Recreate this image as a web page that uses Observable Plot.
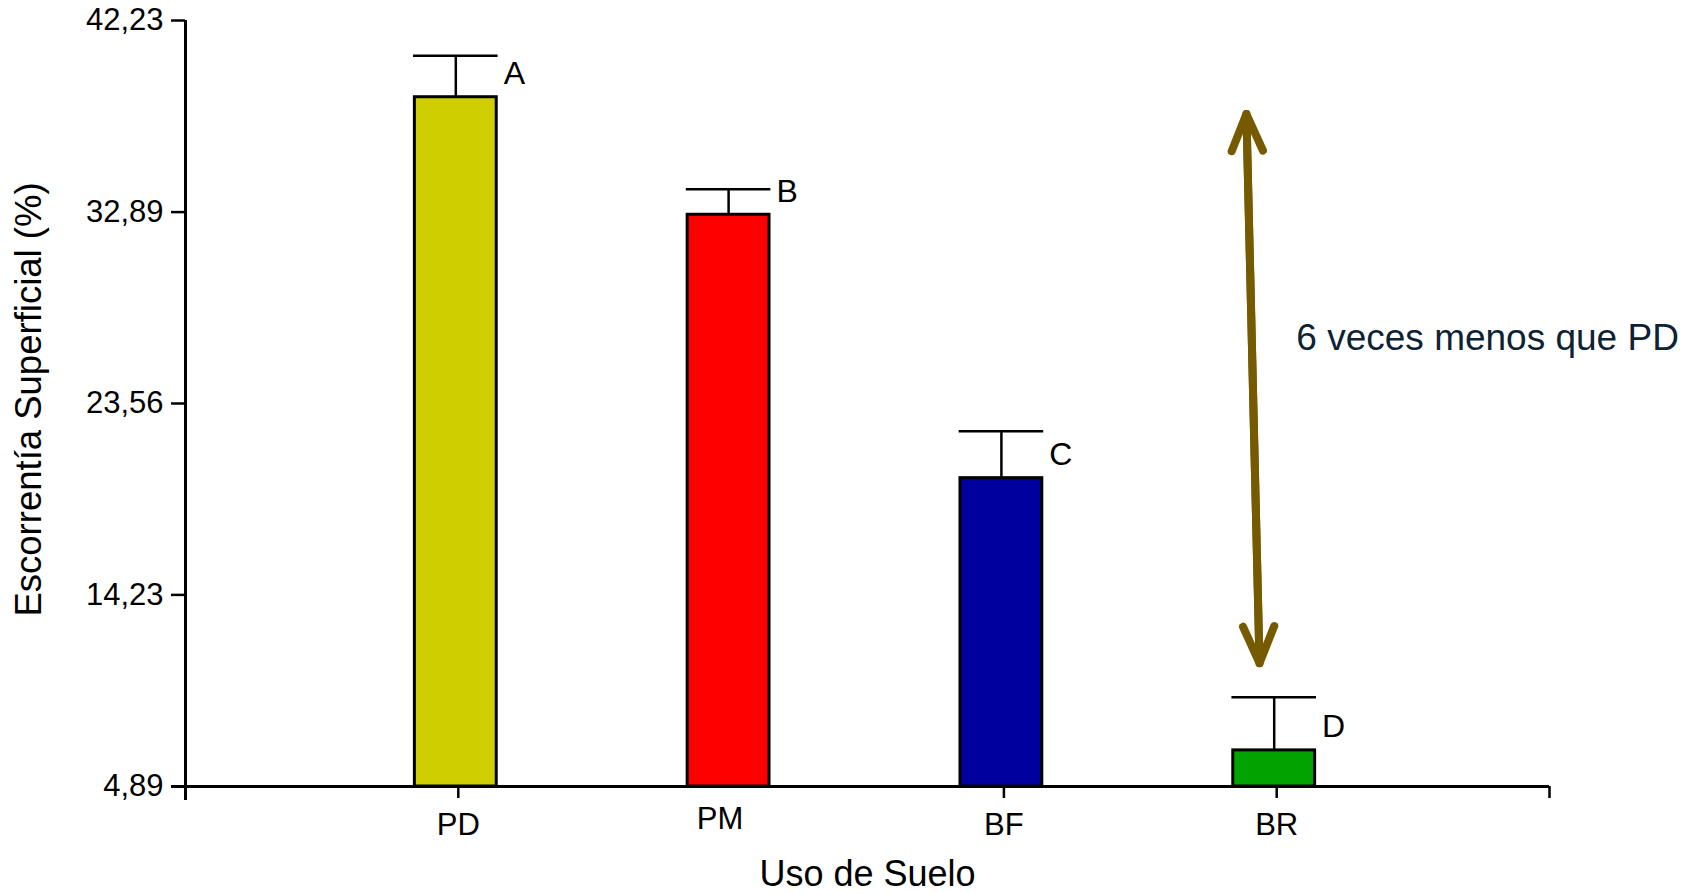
<!DOCTYPE html>
<html>
<head>
<meta charset="utf-8">
<script src="https://cdn.jsdelivr.net/npm/d3@7"></script>
<script src="https://cdn.jsdelivr.net/npm/@observablehq/plot@0.6"></script>
<style>
  html, body { margin: 0; padding: 0; background: #fff; }
  #chart svg { display: block; }
</style>
</head>
<body>
<div id="chart"></div>
<script>
// ---- data ----
const categories = ["PD", "PM", "BF", "BR"];
const means      = [38.49, 32.76, 19.92, 6.65];
const errors     = [2.02, 1.24, 2.29, 2.59];
const letters    = ["A", "B", "C", "D"];
const letterY    = [39.63, 33.89, 21.07, 7.78];
const colors     = ["#CFCF00", "#FF0000", "#00009E", "#00A300"];
const yTicks     = [4.89, 14.23, 23.56, 32.89, 42.23];
const xTickPos   = [1, 3, 4, 5];           // tick marks drawn on the x axis (no PM tick in the original)
const arrowX     = [3.889, 3.937];          // top, bottom end of the double arrow
const arrowY     = [37.67, 10.90];
const noteText   = ["6 veces menos que PD"];
const noteX      = [4.072];
const noteY      = [26.76];
const xTitle     = "Uso de Suelo";
const yTitle     = "Escorrentía Superficial (%)";

const rows = categories.map((c, i) => ({
  cat: c, idx: i + 1, mean: means[i], err: errors[i],
  letter: letters[i], ly: letterY[i], color: colors[i]
}));
const yMin = yTicks[0], yMax = yTicks[yTicks.length - 1];
const hw = 0.15;   // half bar width in x units
const shift = -2.5; // bars sit slightly left of their ticks in the original
const fmt = d => d.toFixed(2).replace(".", ",");
const arrowSeg = [{x: arrowX[0], y: arrowY[0]}, {x: arrowX[1], y: arrowY[1]}];

const chart = Plot.plot({
  width: 1696,
  height: 894,
  marginLeft: 185,
  marginRight: 147,
  marginTop: 20,
  marginBottom: 108,
  style: {fontFamily: "'Liberation Sans', Arial, sans-serif", color: "#000", background: "#fff"},
  x: {type: "linear", domain: [0, categories.length + 1], label: null},
  y: {domain: [yMin, yMax], label: null},
  marks: [
    // bars
    Plot.rectY(rows, {
      x1: d => d.idx - hw, x2: d => d.idx + hw,
      y1: () => yMin, y2: "mean", dx: shift,
      fill: "color", stroke: "#000", strokeWidth: 3
    }),
    // error bar stems
    Plot.ruleX(rows, {x: "idx", y1: "mean", y2: d => d.mean + d.err, dx: shift, stroke: "#000", strokeWidth: 2.5}),
    // error bar caps
    Plot.ruleY(rows, {y: d => d.mean + d.err, x1: d => d.idx - hw - 0.005, x2: d => d.idx + hw + 0.005, dx: shift, stroke: "#000", strokeWidth: 2.5}),
    // significance letters
    Plot.text(rows, {x: d => d.idx + hw, y: "ly", text: "letter", dx: 7 + shift, textAnchor: "start", fontSize: 32, fill: "#000"}),
    // axis lines
    Plot.ruleX([0], {stroke: "#000", strokeWidth: 3, insetBottom: -14}),
    Plot.ruleY([yMin], {stroke: "#000", strokeWidth: 3, insetLeft: -14}),
    // y axis
    Plot.axisY({ticks: yTicks, tickFormat: fmt, tickSize: 14, tickPadding: 8, fontSize: 31, strokeWidth: 2.5, label: null}),
    // x axis ticks
    Plot.axisX({ticks: xTickPos, tickFormat: () => "", tickSize: 12, strokeWidth: 2.5, label: null}),
    // x axis labels
    Plot.axisX({ticks: [1, 3, 4], tickFormat: d => categories[d - 1], tickSize: 0, tickPadding: 26, fontSize: 31, label: null}),
    Plot.axisX({ticks: [2], tickFormat: d => categories[d - 1], tickSize: 0, tickPadding: 20.5, dx: -11, fontSize: 31, label: null}),
    // axis titles
    Plot.text([xTitle], {frameAnchor: "bottom", dy: 88, fontSize: 36, fill: "#000", lineAnchor: "middle", textAnchor: "middle"}),
    Plot.text([yTitle], {frameAnchor: "left", dx: -156, dy: -4, rotate: -90, fontSize: 36.5, fill: "#000", lineAnchor: "middle", textAnchor: "middle"}),
    // double-headed arrow
    Plot.arrow([arrowSeg], {x1: d => d[1].x, y1: d => d[1].y, x2: d => d[0].x, y2: d => d[0].y,
      stroke: "#755A00", strokeWidth: 8, headLength: 7.5, headAngle: 46, strokeLinecap: "round", strokeLinejoin: "miter"}),
    Plot.arrow([arrowSeg], {x1: d => d[0].x, y1: d => d[0].y, x2: d => d[1].x, y2: d => d[1].y,
      stroke: "#755A00", strokeWidth: 8, headLength: 7.5, headAngle: 46, strokeLinecap: "round", strokeLinejoin: "miter"}),
    // annotation
    Plot.text(noteText, {x: () => noteX[0], y: () => noteY[0], textAnchor: "start", lineAnchor: "middle", fontSize: 37, fill: "#0D2233"})
  ]
});
document.getElementById("chart").appendChild(chart);
</script>
</body>
</html>
